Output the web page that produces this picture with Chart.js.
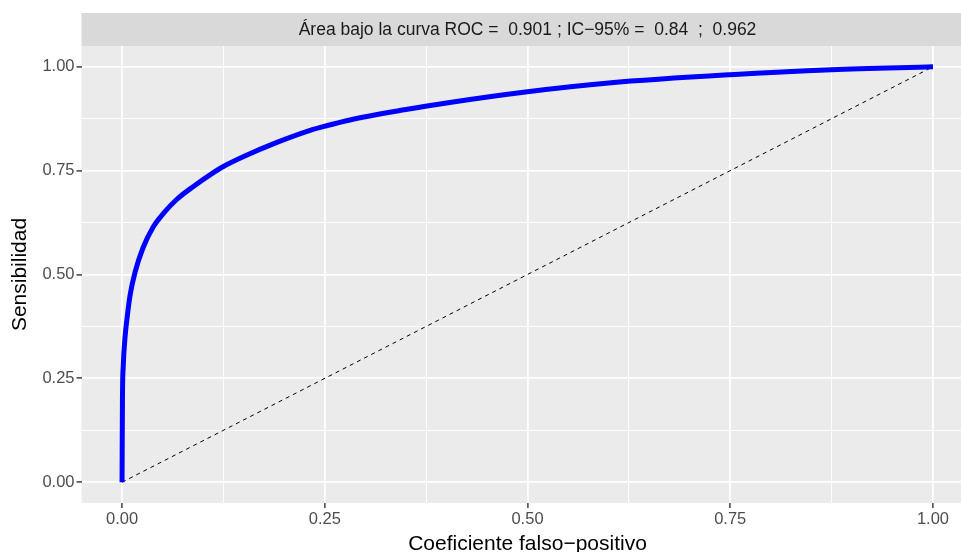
<!DOCTYPE html>
<html>
<head>
<meta charset="utf-8">
<script src="https://cdn.jsdelivr.net/npm/chart.js@4/dist/chart.umd.min.js"></script>
<style>
  html, body { margin: 0; padding: 0; overflow: hidden; background: #fff; }
  #wrap { width: 980px; height: 570px; }
</style>
</head>
<body>
<div id="wrap"><canvas id="roc"></canvas></div>
<script>
// curve (false positive rate vs sensitivity)
const fpr = [0, 0.0005, 0.0015, 0.0037, 0.0065, 0.0099, 0.016, 0.026, 0.0386, 0.051, 0.067,
  0.088, 0.1085, 0.125, 0.15, 0.191, 0.232, 0.252, 0.281, 0.35, 0.4, 0.5, 0.6, 0.75, 0.875, 1];
const tpr = [0, 0.2, 0.28, 0.349, 0.4, 0.45, 0.505, 0.565, 0.615, 0.647, 0.68,
  0.712, 0.74, 0.76, 0.784, 0.818, 0.847, 0.858, 0.872, 0.897, 0.913, 0.94, 0.961, 0.981, 0.993, 1];

// chance line
const refX = [0, 1];
const refY = [0, 1];

const majorBreaks = [0, 0.25, 0.5, 0.75, 1];
const minorBreaks = [0.125, 0.375, 0.625, 0.875];
const tickLabels = ["0.00", "0.25", "0.50", "0.75", "1.00"];

const stripText = "Área bajo la curva ROC =  0.901 ; IC\u221295% =  0.84  ;  0.962";
const xTitle = "Coeficiente falso\u2212positivo";
const yTitle = "Sensibilidad";

const FONT = "'Liberation Sans', Arial, Helvetica, sans-serif";
const allBreaks = majorBreaks.concat(minorBreaks).sort((a, b) => a - b);
const isMajor = (v) => majorBreaks.indexOf(v) >= 0;

function axis(title, titlePad) {
  return {
    type: "linear",
    min: -0.05,
    max: 1.05,
    border: { display: false },
    afterBuildTicks: (s) => { s.ticks = allBreaks.map((v) => ({ value: v })); },
    grid: {
      color: "#ffffff",
      lineWidth: (c) => (isMajor(c.tick.value) ? 1.8 : 0.9),
      tickColor: (c) => (isMajor(c.tick.value) ? "#333333" : "rgba(0,0,0,0)"),
      tickWidth: 1.4,
      tickLength: 5
    },
    ticks: {
      autoSkip: false,
      maxRotation: 0,
      padding: 2,
      color: "#4d4d4d",
      font: { family: FONT, size: 16.5 },
      callback: (v) => {
        const i = majorBreaks.indexOf(v);
        return i >= 0 ? tickLabels[i] : "";
      }
    },
    title: {
      display: true,
      text: title,
      color: "#000000",
      font: { family: FONT, size: 21 },
      padding: titlePad
    }
  };
}

const panelPlugin = {
  id: "panel",
  beforeDraw(chart) {
    const { ctx, chartArea: a, scales } = chart;
    ctx.save();
    ctx.fillStyle = "#ebebeb";
    ctx.fillRect(a.left, a.top, a.right - a.left, a.bottom - a.top);
    // facet strip
    ctx.fillStyle = "#d9d9d9";
    ctx.fillRect(a.left, 13, a.right - a.left, a.top - 13);
    ctx.fillStyle = "#1a1a1a";
    ctx.font = "17.5px " + FONT;
    ctx.textAlign = "center";
    ctx.textBaseline = "middle";
    ctx.fillText(stripText, scales.x.getPixelForValue(0.5), (13 + a.top) / 2 + 1);
    ctx.restore();
  }
};

const xAxis = axis(xTitle, { top: 0, bottom: 13 });
xAxis.afterFit = (s) => { s.height = 67; };
const yAxis = axis(yTitle, { top: 7.4, bottom: 0 });
yAxis.afterFit = (s) => { s.width = 81.5; };

new Chart(document.getElementById("roc"), {
  type: "scatter",
  data: {
    datasets: [
      {
        label: "ROC",
        data: fpr.map((x, i) => ({ x: x, y: tpr[i] })),
        showLine: true,
        borderColor: "#0000ff",
        borderWidth: 5,
        pointRadius: 0,
        cubicInterpolationMode: "monotone",
        borderCapStyle: "butt"
      },
      {
        label: "ref",
        data: refX.map((x, i) => ({ x: x, y: refY[i] })),
        showLine: true,
        borderColor: "#000000",
        borderWidth: 1,
        borderDash: [4, 4],
        pointRadius: 0
      }
    ]
  },
  options: {
    responsive: true,
    maintainAspectRatio: false,
    animation: false,
    layout: { padding: { top: 46, left: 0, right: 6.5, bottom: 0 } },
    plugins: { legend: { display: false }, tooltip: { enabled: false } },
    scales: { x: xAxis, y: yAxis }
  },
  plugins: [panelPlugin]
});
</script>
</body>
</html>
